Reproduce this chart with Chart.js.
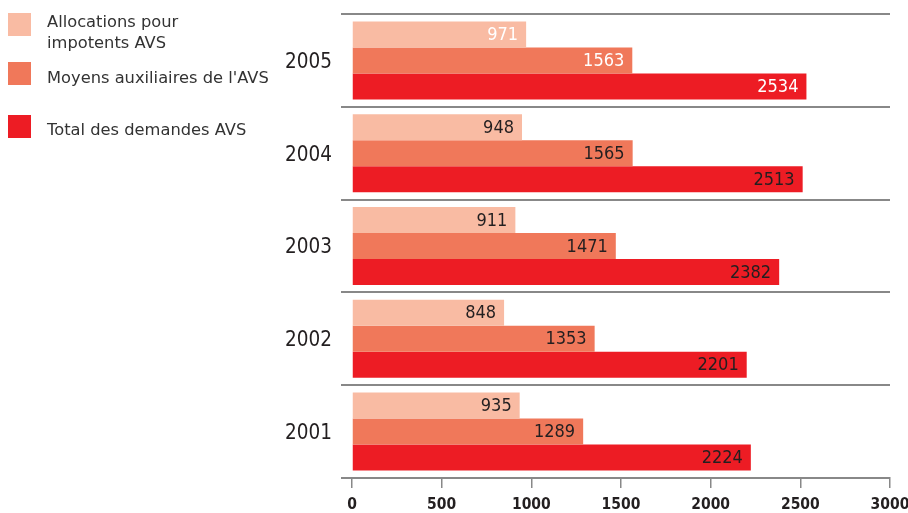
<!DOCTYPE html>
<html>
<head>
<meta charset="utf-8">
<script src="https://cdn.jsdelivr.net/npm/chart.js@4"></script>
<style>
  body { margin: 0; background: #fff; }
  #wrap { position: relative; width: 908px; height: 513px; }
  #legend { position: absolute; left: 0; top: 0; font-family: "DejaVu Sans", sans-serif; font-size: 16.3px; color: #333; }
  .item { position: absolute; left: 8px; white-space: nowrap; }
  .swatch { position: absolute; left: 0; width: 23px; height: 23px; }
  .txt { position: absolute; left: 39px; line-height: 21px; }
</style>
</head>
<body>
<div id="wrap">
  <canvas id="avsChart" width="908" height="513"></canvas>
  <div id="legend"></div>
</div>
<script>
const years = ['2005', '2004', '2003', '2002', '2001'];
const allocations = [971, 948, 911, 848, 935];
const moyens = [1563, 1565, 1471, 1353, 1289];
const total = [2534, 2513, 2382, 2201, 2224];
const xTicks = [0, 500, 1000, 1500, 2000, 2500, 3000];

const seriesNames = ['Allocations pour\nimpotents AVS', "Moyens auxiliaires de l'AVS", 'Total des demandes AVS'];
const seriesColors = ['#F9BBA3', '#F0785A', '#ED1C24'];

// legend on the left, html
const legendTops = [[13, 11], [62, 67], [115, 119]];
const legend = document.getElementById('legend');
seriesNames.forEach(function (name, i) {
    const item = document.createElement('div');
    item.className = 'item';
    item.style.top = legendTops[i][0] + 'px';
    item.innerHTML = '<div class="swatch" style="background:' + seriesColors[i] + '"></div>' +
        '<div class="txt" style="top:' + (legendTops[i][1] - legendTops[i][0]) + 'px">' +
        name.replace('\n', '<br>') + '</div>';
    legend.appendChild(item);
});

// values written inside the bar ends
const valueLabels = {
    id: 'valueLabels',
    afterDatasetsDraw(chart) {
        const ctx = chart.ctx;
        ctx.save();
        ctx.font = '18px "DejaVu Sans Condensed", "DejaVu Sans", sans-serif';
        ctx.textAlign = 'right';
        ctx.textBaseline = 'middle';
        chart.data.datasets.forEach(function (ds, i) {
            chart.getDatasetMeta(i).data.forEach(function (bar, j) {
                ctx.fillStyle = j === 0 ? '#ffffff' : '#231f20';
                ctx.fillText(ds.data[j], bar.x - 8, bar.y + 1);
            });
        });
        ctx.restore();
    }
};

// no extra room for edge labels, the layout padding does it
function noEdgePadding(axis) {
    axis.paddingTop = 0;
    axis.paddingBottom = 0;
    axis.paddingLeft = 0;
    axis.paddingRight = 0;
}

const ctx = document.getElementById('avsChart').getContext('2d');
const avsChart = new Chart(ctx, {
    type: 'bar',
    data: {
        labels: years,
        datasets: [
            { label: seriesNames[0], data: allocations, backgroundColor: seriesColors[0] },
            { label: seriesNames[1], data: moyens, backgroundColor: seriesColors[1] },
            { label: seriesNames[2], data: total, backgroundColor: seriesColors[2] }
        ]
    },
    options: {
        indexAxis: 'y',
        responsive: false,
        animation: false,
        categoryPercentage: 0.84,
        barPercentage: 1.0,
        layout: { padding: { left: 272, right: 18, top: 14, bottom: 1 } },
        plugins: {
            legend: { display: false },
            tooltip: { enabled: false }
        },
        scales: {
            x: {
                min: 0,
                max: 3000,
                afterBuildTicks: function (axis) {
                    axis.ticks = xTicks.map(v => ({ value: v }));
                },
                afterFit: function (axis) {
                    axis.height = 34;
                    noEdgePadding(axis);
                },
                grid: {
                    drawOnChartArea: false,
                    drawTicks: true,
                    tickLength: 10,
                    color: '#888',
                    lineWidth: 1.5
                },
                border: { display: true, color: '#888', width: 2 },
                ticks: {
                    color: '#231f20',
                    padding: 8,
                    callback: function (v) { return String(v); },
                    font: { family: '"DejaVu Sans Condensed", "DejaVu Sans", sans-serif', size: 15.5, weight: 'bold' }
                }
            },
            y: {
                afterFit: function (axis) {
                    axis.width = 80;
                    noEdgePadding(axis);
                },
                grid: {
                    offset: true,
                    drawOnChartArea: true,
                    drawTicks: true,
                    tickLength: 11,
                    color: '#888',
                    lineWidth: 2
                },
                border: { display: false },
                ticks: {
                    color: '#231f20',
                    padding: 9,
                    labelOffset: 2,
                    font: { family: '"DejaVu Sans Condensed", "DejaVu Sans", sans-serif', size: 20.5 }
                }
            }
        }
    },
    plugins: [valueLabels]
});
</script>
</body>
</html>
